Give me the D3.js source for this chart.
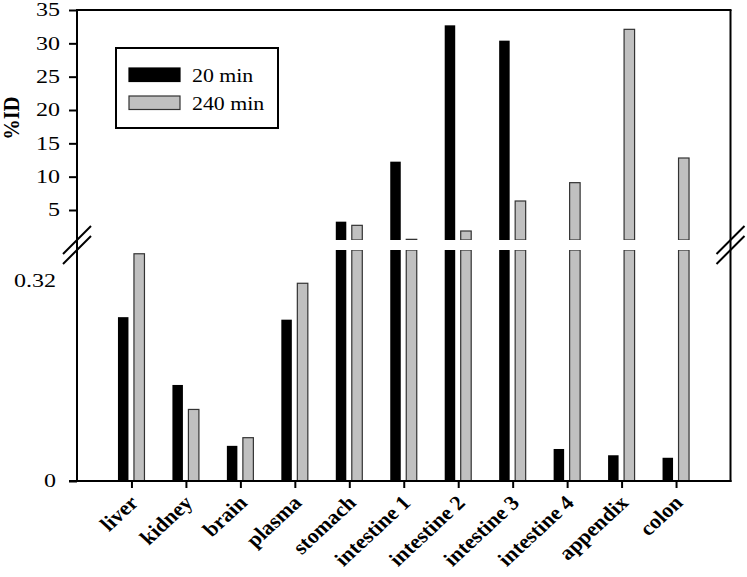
<!DOCTYPE html>
<html><head><meta charset="utf-8">
<script src="https://cdn.jsdelivr.net/npm/d3@7"></script>
<style>body{margin:0;background:#fff}svg{display:block}text{font-family:"Liberation Serif","Times New Roman",serif;fill:#000}</style>
</head><body>
<svg id="c" width="747" height="577"></svg>
<script>
const categories = ["liver","kidney","brain","plasma","stomach","intestine 1","intestine 2","intestine 3","intestine 4","appendix","colon"];
const min20 = [0.261, 0.153, 0.056, 0.257, 3.25, 12.25, 32.7, 30.4, 0.051, 0.041, 0.037];
const min240 = [0.362, 0.114, 0.069, 0.315, 2.7, 0.6, 1.85, 6.35, 9.1, 32.1, 12.8];
const seriesNames = ["20 min", "240 min"];
const upperTicks = [5, 10, 15, 20, 25, 30, 35];
const lowerTicks = [0, 0.32];

const svg = d3.select("#c");
const L = 77, R = 730.5, T = 10, B = 481;
const breakTop = 240, breakBot = 250;
const x = d3.scalePoint().domain(categories).range([L, R]).padding(1);
const yUp = d3.scaleLinear().domain([0.5, 35]).range([breakTop, T]);
const yLo = d3.scaleLinear().domain([0, 0.368]).range([B, breakBot]);
const colors = ["#000", "#c0c0c0"];
const strokes = ["#000", "#333"];
const offs = [-13.5, 2.5], bw = 10.5;

const series = [min20, min240];
series.forEach((vals, si) => {
  const g = svg.append("g");
  vals.forEach((v, i) => {
    const x0 = x(categories[i]) + offs[si];
    const vl = Math.min(v, yLo.domain()[1]);
    g.append("rect").attr("x", x0).attr("width", bw)
      .attr("y", yLo(vl)).attr("height", yLo(0) - yLo(vl))
      .attr("fill", colors[si]).attr("stroke", strokes[si]).attr("stroke-width", si ? 1.2 : 0);
    if (v > yUp.domain()[0]) {
      g.append("rect").attr("x", x0).attr("width", bw)
        .attr("y", yUp(v)).attr("height", yUp(yUp.domain()[0]) - yUp(v))
        .attr("fill", colors[si]).attr("stroke", strokes[si]).attr("stroke-width", si ? 1.2 : 0);
    }
  });
});
svg.append("rect").attr("x", L + 2).attr("width", R - L - 4).attr("y", breakTop).attr("height", breakBot - breakTop).attr("fill", "#fff");

const ax = svg.append("g").attr("stroke", "#000").attr("stroke-width", 2).attr("fill", "none");
ax.append("line").attr("x1", L).attr("x2", L).attr("y1", T).attr("y2", B + 1);
ax.append("line").attr("x1", L - 1).attr("x2", R + 1).attr("y1", T).attr("y2", T);
ax.append("line").attr("x1", R).attr("x2", R).attr("y1", T).attr("y2", B + 1);
ax.append("line").attr("x1", L - 8).attr("x2", R + 1).attr("y1", B).attr("y2", B);

const sxTick = 1.3;
const gUp = svg.append("g").attr("transform", `translate(${L},0)`)
  .call(d3.axisLeft(yUp).tickValues(upperTicks).tickSize(8).tickPadding(6));
const gLo = svg.append("g").attr("transform", `translate(${L},0)`)
  .call(d3.axisLeft(yLo).tickValues(lowerTicks).tickFormat(d => d === 0 ? "0" : "0.32").tickSize(8).tickPadding(6));
gLo.selectAll(".tick line").filter(d => d !== 0).remove();
[[gUp, 17], [gLo, 21]].forEach(([g, off]) => {
  g.select(".domain").remove();
  g.selectAll(".tick line").attr("stroke", "#000").attr("stroke-width", 2);
  g.selectAll(".tick text").attr("font-family", "Liberation Serif").attr("font-size", 18.5).attr("fill", "#000")
    .attr("x", -off / sxTick).attr("transform", `scale(${sxTick},1)`);
});

const gx = svg.append("g").attr("transform", `translate(0,${B})`)
  .call(d3.axisBottom(x).tickSize(7).tickFormat(""));
gx.select(".domain").remove();
gx.selectAll(".tick line").attr("stroke", "#000").attr("stroke-width", 2);
svg.append("g").selectAll("text").data(categories).join("text")
  .attr("transform", d => `translate(${x(d) + 8},${B + 23}) scale(1.08,1) rotate(-45)`)
  .attr("text-anchor", "end").attr("font-weight", "bold").attr("font-size", 20.5).text(d => d);

const bm = svg.append("g").attr("stroke", "#000").attr("stroke-width", 2);
[L, R].forEach(cx => {
  [breakTop, breakBot].forEach(cy => {
    bm.append("line").attr("x1", cx - 14).attr("y1", cy + 14).attr("x2", cx + 14).attr("y2", cy - 14);
  });
});

svg.append("text").attr("transform", "translate(19,118) scale(1.08,1) rotate(-90)").attr("text-anchor", "middle")
  .attr("font-weight", "bold").attr("font-size", 20.5).text("%ID");

const lg = svg.append("g");
lg.append("rect").attr("x", 116).attr("y", 48).attr("width", 162).attr("height", 80).attr("fill", "#fff").attr("stroke", "#000").attr("stroke-width", 2);
seriesNames.forEach((n, i) => {
  lg.append("rect").attr("x", 129).attr("y", 68 + i * 28).attr("width", 51).attr("height", 13.5)
    .attr("fill", colors[i]).attr("stroke", strokes[i]).attr("stroke-width", 1.2);
  lg.append("text").attr("transform", `translate(192,${82 + i * 28}) scale(1.12,1)`).attr("font-size", 19.5).text(n);
});
</script>
</body></html>
